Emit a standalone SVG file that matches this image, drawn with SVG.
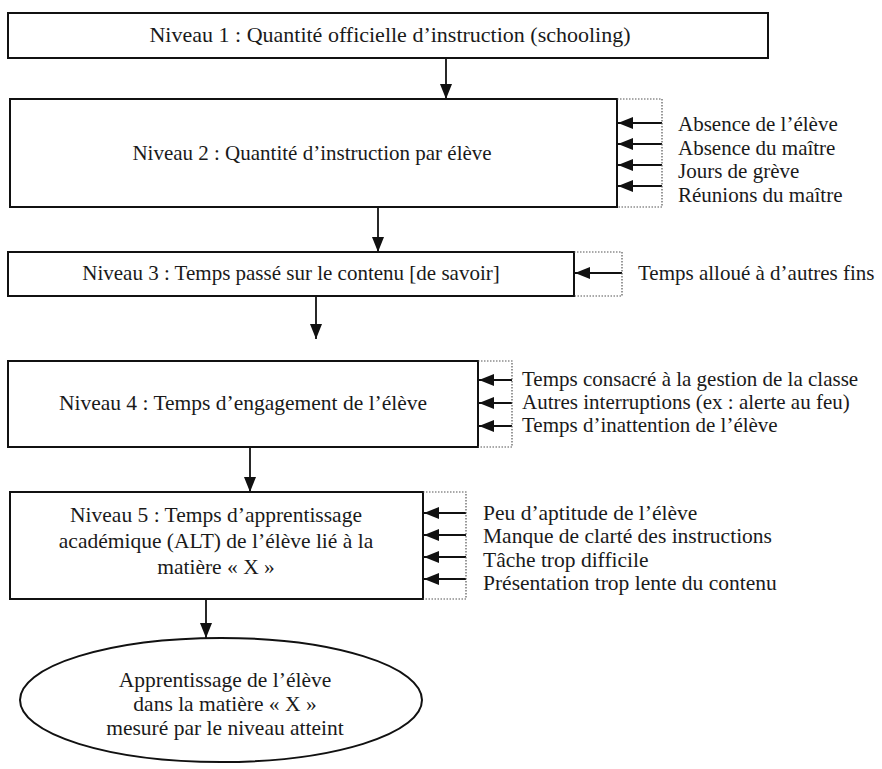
<svg xmlns="http://www.w3.org/2000/svg" width="882" height="769" viewBox="0 0 882 769">
<style>
.box{fill:#fff;stroke:#111;stroke-width:2}
.dot{fill:none;stroke:#555;stroke-width:1.2;stroke-dasharray:1.5 1.5}
.t{font-family:"Liberation Serif","Times New Roman",serif;font-size:21px;fill:#1a1a1a}
.m{font-size:21.5px}
.l{font-size:22px}
.c{text-anchor:middle}
.con{stroke:#111;stroke-width:1.8;fill:none;marker-end:url(#ah)}
</style>
<defs>
<marker id="ah" viewBox="0 0 15 12" refX="15" refY="6" markerWidth="15" markerHeight="12" markerUnits="userSpaceOnUse" orient="auto">
<path d="M0,0 L15,6 L0,12 z" fill="#111"/>
</marker>
</defs>
<rect width="882" height="769" fill="#fff"/>

<g id="connectors">
<line class="con" x1="446" y1="58" x2="446" y2="99"/>
<line class="con" x1="378" y1="207" x2="378" y2="252"/>
<line class="con" x1="316" y1="296" x2="316" y2="339"/>
<line class="con" x1="250" y1="447" x2="250" y2="492"/>
<line class="con" x1="206" y1="599" x2="206" y2="638"/>
<line class="con" x1="662" y1="123" x2="618" y2="123"/>
<line class="con" x1="662" y1="144" x2="618" y2="144"/>
<line class="con" x1="662" y1="165" x2="618" y2="165"/>
<line class="con" x1="662" y1="186" x2="618" y2="186"/>
<line class="con" x1="622" y1="273" x2="575" y2="273"/>
<line class="con" x1="512" y1="380" x2="479" y2="380"/>
<line class="con" x1="512" y1="403" x2="479" y2="403"/>
<line class="con" x1="512" y1="426" x2="479" y2="426"/>
<line class="con" x1="466" y1="513" x2="424" y2="513"/>
<line class="con" x1="466" y1="535" x2="424" y2="535"/>
<line class="con" x1="466" y1="557" x2="424" y2="557"/>
<line class="con" x1="466" y1="579" x2="424" y2="579"/>
</g>

<g id="niveau1">
<rect class="box" x="8" y="13" width="760" height="45"/>
<text class="t l c" x="390" y="42">Niveau 1 : Quantité officielle d’instruction (schooling)</text>
</g>

<g id="niveau2">
<rect class="box" x="10" y="99" width="607" height="108"/>
<path class="dot" d="M617,99 H662 V207 H617"/>
<text class="t c" x="312" y="160">Niveau 2 : Quantité d’instruction par élève</text>
</g>
<g id="facteurs2">
<text class="t" x="678" y="131">Absence de l’élève</text>
<text class="t" x="678" y="155">Absence du maître</text>
<text class="t" x="678" y="178">Jours de grève</text>
<text class="t" x="678" y="202">Réunions du maître</text>
</g>

<g id="niveau3">
<rect class="box" x="8" y="252" width="566" height="44"/>
<path class="dot" d="M574,252 H622 V296 H574"/>
<text class="t c" x="291" y="280">Niveau 3 : Temps passé sur le contenu [de savoir]</text>
</g>
<g id="facteurs3">
<text class="t" x="638" y="280">Temps alloué à d’autres fins</text>
</g>

<g id="niveau4">
<rect class="box" x="8" y="361" width="470" height="86"/>
<path class="dot" d="M478,361 H512 V447 H478"/>
<text class="t m c" x="243" y="410">Niveau 4 : Temps d’engagement de l’élève</text>
</g>
<g id="facteurs4">
<text class="t" x="522" y="386">Temps consacré à la gestion de la classe</text>
<text class="t" x="522" y="409">Autres interruptions (ex : alerte au feu)</text>
<text class="t" x="522" y="432">Temps d’inattention de l’élève</text>
</g>

<g id="niveau5">
<rect class="box" x="10" y="492" width="413" height="107"/>
<path class="dot" d="M423,492 H466 V599 H423"/>
<text class="t m c" x="216" y="522">Niveau 5 : Temps d’apprentissage</text>
<text class="t m c" x="216" y="548">académique (ALT) de l’élève lié à la</text>
<text class="t m c" x="216" y="574">matière « X »</text>
</g>
<g id="facteurs5">
<text class="t m" x="483" y="520">Peu d’aptitude de l’élève</text>
<text class="t m" x="483" y="543">Manque de clarté des instructions</text>
<text class="t m" x="483" y="567">Tâche trop difficile</text>
<text class="t m" x="483" y="590">Présentation trop lente du contenu</text>
</g>

<g id="resultat">
<ellipse cx="221" cy="700" rx="201" ry="62" fill="#fff" stroke="#111" stroke-width="2"/>
<text class="t m c" x="225" y="687">Apprentissage de l’élève</text>
<text class="t m c" x="225" y="711">dans la matière « X »</text>
<text class="t m c" x="225" y="735">mesuré par le niveau atteint</text>
</g>
</svg>
